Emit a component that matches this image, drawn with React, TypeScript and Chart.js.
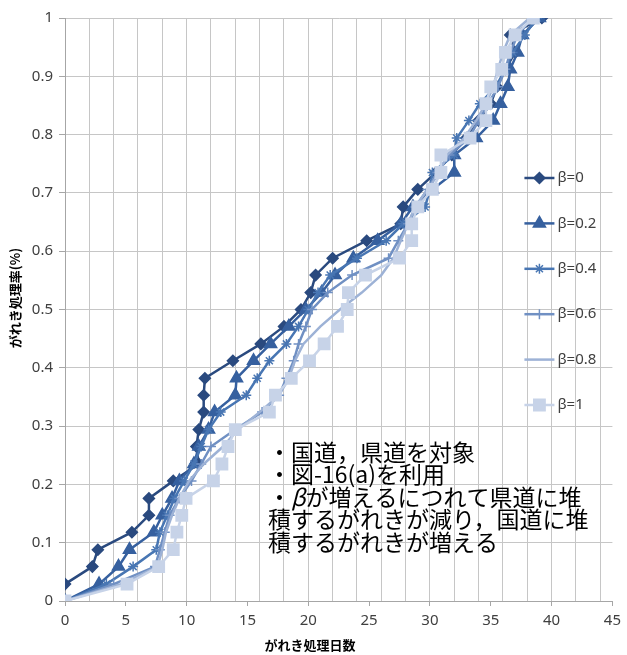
import React, { useEffect, useRef } from 'react';
import { Chart, registerables } from 'chart.js';
import { drawPoint } from 'chart.js/helpers';

Chart.register(...registerables);

// ---- data ----
const rates = [0, 0.029, 0.059, 0.088, 0.118, 0.147, 0.176, 0.206, 0.235, 0.265, 0.294, 0.324, 0.353, 0.382, 0.412, 0.441, 0.471, 0.5, 0.529, 0.559, 0.588, 0.618, 0.647, 0.676, 0.706, 0.735, 0.765, 0.794, 0.824, 0.853, 0.882, 0.912, 0.941, 0.971, 1];
const beta0Rates = [0.029, 0.059, 0.088, 0.118, 0.147, 0.176, 0.206, 0.235, 0.265, 0.294, 0.324, 0.353, 0.382, 0.412, 0.441, 0.471, 0.5, 0.529, 0.559, 0.588, 0.618, 0.647, 0.676, 0.706, 0.735, 0.765, 0.794, 0.824, 0.853, 0.882, 0.912, 0.941, 0.971, 1];

const beta0Days = [0, 2.25, 2.7, 5.5, 6.9, 6.9, 8.9, 11.0, 10.8, 11.0, 11.4, 11.4, 11.5, 13.8, 16.1, 18.0, 19.4, 20.2, 20.6, 22.0, 24.8, 27.6, 27.8, 29.0, 30.5, 31.8, 33.0, 34.0, 35.0, 35.5, 36.2, 37.0, 36.6, 39.2];
const beta02Days = [0, 2.8, 4.4, 5.3, 7.3, 8.0, 8.8, 9.4, 10.6, 11.0, 11.8, 12.3, 14.0, 14.1, 15.5, 16.9, 18.4, 19.8, 21.1, 22.2, 23.7, 25.7, 27.6, 28.6, 30.2, 32.0, 32.0, 33.8, 35.2, 35.8, 36.4, 36.6, 37.2, 37.6, 39.0];
const beta04Days = [0, 3.4, 5.6, 7.5, 7.8, 8.4, 9.0, 9.8, 10.6, 11.2, 11.8, 12.8, 14.9, 15.8, 16.8, 18.2, 19.2, 20.0, 20.8, 21.8, 24.0, 26.4, 27.8, 29.6, 30.0, 30.2, 32.0, 32.2, 33.2, 34.1, 35.4, 36.2, 36.8, 37.8, 38.8];
const beta06Days = [0, 4.0, 7.4, 7.8, 8.2, 8.6, 9.4, 10.4, 11.2, 12.0, 14.0, 16.2, 17.6, 18.2, 18.8, 19.2, 19.8, 20.3, 21.6, 23.6, 26.6, 27.4, 28.2, 28.8, 29.8, 30.6, 31.6, 33.2, 34.0, 34.8, 35.6, 36.2, 36.6, 37.2, 38.4];
const beta08Days = [0, 4.6, 7.6, 8.0, 8.3, 8.8, 9.4, 10.2, 11.4, 13.0, 14.2, 16.0, 17.6, 18.4, 18.9, 19.6, 21.0, 22.6, 24.4, 26.0, 27.0, 27.6, 28.2, 28.8, 29.8, 30.8, 31.4, 32.8, 33.8, 34.6, 35.2, 35.6, 36.0, 36.6, 38.2];
const beta1Days = [0, 5.1, 7.7, 8.9, 9.2, 9.6, 9.95, 12.2, 12.9, 13.4, 14.0, 16.8, 17.3, 18.6, 20.1, 21.3, 22.4, 23.2, 23.3, 24.7, 27.5, 28.5, 28.5, 29.0, 30.2, 30.9, 30.9, 33.3, 34.6, 34.6, 35.0, 35.9, 36.2, 37.0, 38.5];

const seriesLabels = ['β=0', 'β=0.2', 'β=0.4', 'β=0.6', 'β=0.8', 'β=1'];
const xTitle = 'がれき処理日数';
const yTitle = 'がれき処理率(%)';
const noteLines = ['・国道，県道を対象', '・図-16(a)を利用', '・βが増えるにつれて県道に堆', '積するがれきが減り，国道に堆', '積するがれきが増える'];

// ---- styles ----
const colors = ['#2A4A7F', '#36609F', '#4876B3', '#7090C3', '#9DB2D6', '#C7D3E8'];
const markers: any[] = ['rectRot', 'triangle', 'star', 'cross', 'circle', 'rect'];
const markerRadius = [5.5, 7, 5, 5, 0, 8];

const seriesDays = [beta0Days, beta02Days, beta04Days, beta06Days, beta08Days, beta1Days];
const seriesRates = [beta0Rates, rates, rates, rates, rates, rates];

const tickFont = { family: '"Noto Sans", "DejaVu Sans", sans-serif', size: 15 };
const cjk = '"Noto Sans CJK JP", sans-serif';

const overlayPlugin = {
  id: 'overlay',
  afterDraw(chart: any) {
    const ctx = chart.ctx as CanvasRenderingContext2D;
    const area = chart.chartArea;
    ctx.save();

    // legend
    const lx = area.right - 88;
    const ly = area.top + 160;
    const gap = 45.4;
    chart.data.datasets.forEach((ds: any, i: number) => {
      const y = ly + i * gap;
      ctx.strokeStyle = ds.borderColor;
      ctx.lineWidth = 2.5;
      ctx.beginPath();
      ctx.moveTo(lx, y);
      ctx.lineTo(lx + 30, y);
      ctx.stroke();
      if (ds.pointRadius > 0) {
        ctx.fillStyle = ds.backgroundColor;
        ctx.strokeStyle = ds.borderColor;
        ctx.lineWidth = ds.pointBorderWidth;
        drawPoint(ctx, { pointStyle: ds.pointStyle, radius: ds.pointRadius, borderWidth: ds.pointBorderWidth, rotation: 0 } as any, lx + 15, y);
      }
      ctx.fillStyle = '#404040';
      ctx.font = `15px ${tickFont.family}`;
      ctx.textBaseline = 'middle';
      ctx.textAlign = 'left';
      ctx.fillText(ds.label, lx + 33, y);
    });

    // axis titles
    ctx.fillStyle = '#000000';
    ctx.font = `bold 13px ${cjk}`;
    ctx.textAlign = 'center';
    ctx.textBaseline = 'middle';
    ctx.fillText(xTitle, 310, 645);
    ctx.save();
    ctx.translate(15, 298);
    ctx.rotate(-Math.PI / 2);
    ctx.fillText(yTitle, 0, 0);
    ctx.restore();

    // note
    ctx.textAlign = 'left';
    ctx.textBaseline = 'middle';
    const nx = 268;
    const ny = 452;
    const lh = 22.5;
    const normal = `23px ${cjk}`;
    const italic = `italic 23px ${cjk}`;
    noteLines.forEach((line, i) => {
      const y = ny + i * lh;
      let x = nx;
      const parts = line.split('β');
      parts.forEach((p, k) => {
        ctx.font = normal;
        ctx.fillText(p, x, y);
        x += ctx.measureText(p).width;
        if (k < parts.length - 1) {
          ctx.font = italic;
          ctx.fillText('β', x, y);
          x += ctx.measureText('β').width;
        }
      });
    });
    ctx.restore();
  },
};

export default function App() {
  const ref = useRef<HTMLCanvasElement | null>(null);
  useEffect(() => {
    if (!ref.current) return;
    const datasets = seriesLabels.map((label, i) => ({
      label,
      data: seriesDays[i].map((d, k) => ({ x: d, y: seriesRates[i][k] })),
      borderColor: colors[i],
      backgroundColor: colors[i],
      pointStyle: markers[i],
      pointRadius: markerRadius[i],
      pointBorderWidth: 1.5,
      borderWidth: 2.5,
      tension: 0,
      fill: false,
      order: 5 - i,
    }));
    const chart = new Chart(ref.current, {
      type: 'line',
      data: { datasets },
      options: {
        responsive: false,
        animation: false,
        layout: { padding: { left: 0, right: 9, top: 18, bottom: 0 } },
        plugins: { legend: { display: false }, tooltip: { enabled: false } },
        scales: {
          x: {
            type: 'linear',
            min: 0,
            max: 45,
            afterFit(s: any) { s.height = 54; },
            ticks: {
              stepSize: 1,
              autoSkip: false,
              maxRotation: 0,
              padding: 6,
              color: '#404040',
              font: tickFont,
              callback: (v: any) => (Number(v) % 5 === 0 ? String(v) : ''),
            },
            grid: {
              color: (c: any) => (c.tick && c.tick.value % 2 === 0 && c.tick.value !== 0 ? '#c6c6c6' : 'rgba(0,0,0,0)'),
              tickColor: (c: any) => (c.tick && c.tick.value % 5 === 0 ? '#a6a6a6' : 'rgba(0,0,0,0)'),
              tickLength: 5,
              lineWidth: 1,
            },
            border: { display: true, color: '#a6a6a6' },
          },
          y: {
            type: 'linear',
            min: 0,
            max: 1,
            afterFit(s: any) { s.width = 65; },
            ticks: {
              stepSize: 0.1,
              padding: 6,
              color: '#404040',
              font: tickFont,
              callback: (v: any) => String(Math.round(Number(v) * 10) / 10),
            },
            grid: { color: '#c6c6c6', tickColor: '#a6a6a6', tickLength: 6, lineWidth: 1 },
            border: { display: true, color: '#a6a6a6' },
          },
        },
      } as any,
      plugins: [overlayPlugin],
    });
    return () => chart.destroy();
  }, []);
  return (
    <div style={{ position: 'absolute', left: 0, top: 0, width: 627, height: 655, background: '#ffffff' }}>
      <canvas ref={ref} width={627} height={655} style={{ display: 'block' }} />
    </div>
  );
}
